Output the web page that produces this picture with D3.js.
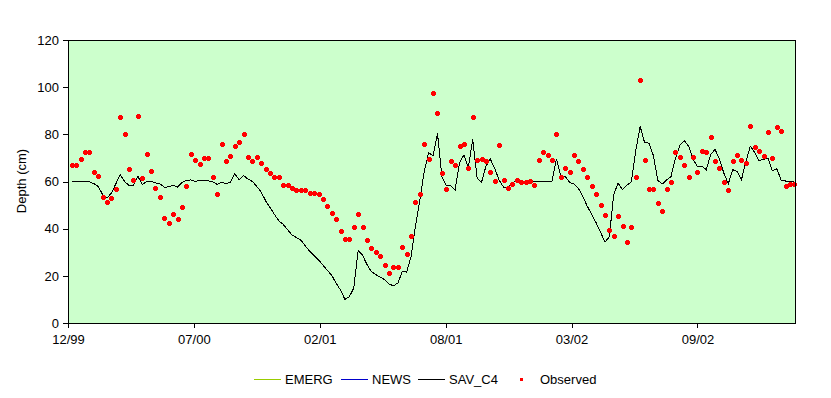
<!DOCTYPE html>
<html><head><meta charset="utf-8">
<script src="https://cdn.jsdelivr.net/npm/d3@7"></script>
<style>
body{margin:0;background:#fff;}
text{font-family:"Liberation Sans",Arial,sans-serif;}
</style></head>
<body>
<svg id="chart" width="831" height="398"></svg>
<script>
const obsDates = [
"2000-01-04","2000-01-11","2000-01-18","2000-01-25","2000-02-01","2000-02-08","2000-02-15","2000-02-22","2000-02-29",
"2000-03-07","2000-03-14","2000-03-21","2000-03-28","2000-04-04","2000-04-11","2000-04-18","2000-04-25",
"2000-05-02","2000-05-09","2000-05-16","2000-05-23","2000-05-30","2000-06-06","2000-06-13","2000-06-20","2000-06-27",
"2000-07-04","2000-07-11","2000-07-18","2000-07-25","2000-08-01","2000-08-08","2000-08-15","2000-08-22","2000-08-29",
"2000-09-05","2000-09-12","2000-09-19","2000-09-26","2000-10-03","2000-10-10","2000-10-17","2000-10-24","2000-10-31",
"2000-11-07","2000-11-14","2000-11-21","2000-11-28","2000-12-05","2000-12-12","2000-12-19","2000-12-26",
"2001-01-02","2001-01-09","2001-01-16","2001-01-23","2001-01-30","2001-02-06","2001-02-13","2001-02-20","2001-02-27",
"2001-03-06","2001-03-13","2001-03-20","2001-03-27","2001-04-03","2001-04-10","2001-04-17","2001-04-24",
"2001-05-01","2001-05-08","2001-05-15","2001-05-22","2001-05-29","2001-06-05","2001-06-12","2001-06-19","2001-06-26",
"2001-07-03","2001-07-10","2001-07-17","2001-07-24","2001-07-31","2001-08-07","2001-08-14","2001-08-21","2001-08-28",
"2001-09-04","2001-09-11","2001-09-18","2001-09-25","2001-10-02","2001-10-09","2001-10-16","2001-10-23","2001-10-30",
"2001-11-06","2001-11-13","2001-11-20","2001-11-27","2001-12-04","2001-12-11","2001-12-18","2001-12-25",
"2002-01-01","2002-01-08","2002-01-15","2002-01-22","2002-01-29","2002-02-05","2002-02-12","2002-02-19","2002-02-26",
"2002-03-05","2002-03-12","2002-03-19","2002-03-26","2002-04-02","2002-04-09","2002-04-16","2002-04-23","2002-04-30",
"2002-05-07","2002-05-14","2002-05-21","2002-05-28","2002-06-04","2002-06-11","2002-06-18","2002-06-25",
"2002-07-02","2002-07-09","2002-07-16","2002-07-23","2002-07-30","2002-08-06","2002-08-13","2002-08-20","2002-08-27",
"2002-09-03","2002-09-10","2002-09-17","2002-09-24","2002-10-01","2002-10-08","2002-10-15","2002-10-22","2002-10-29",
"2002-11-05","2002-11-12","2002-11-19","2002-11-26","2002-12-03","2002-12-10","2002-12-17","2002-12-24","2002-12-31",
"2003-01-07","2003-01-14","2003-01-21","2003-01-28","2003-02-04","2003-02-11","2003-02-18","2003-02-25"
];
const observed = [
67.2,66.8,69.7,72.7,72.3,64.2,62.5,53.6,51.1,52.8,57.0,87.5,80.3,65.5,60.8,87.9,61.3,71.8,64.6,57.4,
53.6,44.7,42.6,46.4,44.3,49.0,57.9,71.8,69.3,67.6,70.1,70.1,61.7,54.5,76.1,68.5,71.0,75.2,76.9,80.3,
70.6,68.9,70.4,68.0,65.5,63.8,61.7,62.1,58.7,58.7,57.4,56.2,56.6,56.2,55.3,55.3,54.5,52.4,49.8,46.8,
43.9,38.8,35.8,35.8,40.9,46.4,40.9,35.4,32.0,30.3,28.6,24.8,21.4,23.6,23.6,32.4,29.1,37.1,51.5,54.9,
76.1,69.7,97.7,89.2,63.4,57.0,68.9,67.2,75.2,76.1,65.9,87.5,69.3,69.7,68.9,64.2,60.4,75.6,60.8,57.4,
59.1,60.8,60.0,59.6,60.4,58.7,69.3,72.3,71.4,69.3,80.3,62.1,65.9,64.2,71.4,68.9,65.5,62.1,57.9,54.5,
50.2,46.0,39.6,37.1,45.2,41.3,34.2,40.5,61.7,103.2,69.3,57.0,57.0,50.7,47.3,57.0,59.6,72.3,70.6,67.2,
62.1,70.6,64.2,73.1,72.3,79.0,68.5,65.9,60.0,56.2,68.9,71.4,69.3,68.0,83.7,74.8,73.1,71.0,81.2,70.1,
83.3,81.6,58.3,59.1,59.1
];
const savC4 = [
59.9,60.2,60.2,60.2,59.9,59.1,57.9,54.5,53.0,55.1,59.0,62.9,60.0,58.3,58.5,62.2,58.8,59.9,60.2,59.4,
59.0,57.6,57.7,58.5,57.6,59.6,60.4,60.7,60.0,60.4,60.5,60.3,59.9,58.8,59.6,59.1,59.7,63.3,60.8,62.5,
61.0,60.0,57.9,55.5,51.8,49.0,46.0,43.3,41.8,39.5,37.3,36.2,35.1,32.7,30.4,28.5,26.8,24.5,22.3,20.2,
16.9,13.9,10.0,11.2,14.8,30.8,28.7,24.8,21.8,20.5,19.5,18.4,16.5,15.8,16.9,21.7,21.6,28.2,41.2,52.0,
64.5,72.2,70.8,80.5,62.0,58.3,58.2,56.4,68.0,71.2,66.0,77.8,61.5,59.7,66.5,69.5,65.5,60.5,57.6,57.5,
59.5,60.2,60.2,60.2,60.2,60.2,60.2,60.2,60.2,60.2,69.5,62.2,62.2,59.6,58.9,57.0,53.6,49.5,46.0,42.5,
38.6,34.3,36.5,54.5,59.3,56.5,58.5,59.8,73.0,83.4,76.5,76.3,71.0,60.5,58.9,60.7,62.1,69.8,75.3,77.3,
75.0,69.5,66.3,66.5,65.0,71.5,73.6,69.5,63.5,59.0,65.0,64.3,60.8,68.5,75.0,72.3,68.8,69.4,69.8,64.6,
65.4,60.6,60.2,60.2,60.2
];
const emerg = [];   // not visible in the plot
const news = [];    // not visible in the plot
const xTickDates = ["1999-12-29","2000-07-16","2001-02-01","2001-08-20","2002-03-08","2002-09-24"];
const xDomain = ["1999-12-29","2003-02-26"];
const yTicks = [0,20,40,60,80,100,120];
const seriesNames = ["EMERG","NEWS","SAV_C4","Observed"];
const seriesColors = ["#99CC00","#0000CC","#000000","#FF0000"];

const parse = d3.utcParse("%Y-%m-%d");
const svg = d3.select("#chart");
const L = 68, R = 795, T = 40, B = 323;

const x = d3.scaleUtc().domain(xDomain.map(parse)).range([L, R]);
const y = d3.scaleLinear().domain([0, 120]).range([B, T]);

svg.append("rect").attr("x", L).attr("y", T).attr("width", R - L).attr("height", B - T)
  .attr("fill", "#CCFFCC");

const lineGen = d3.line().x(d => x(d[0])).y(d => y(d[1]));
function series(vals) { return vals.map((v, i) => [parse(obsDates[i]), v]); }

svg.append("path").datum(series(emerg)).attr("d", lineGen).attr("fill", "none").attr("stroke", seriesColors[0]);
svg.append("path").datum(series(news)).attr("d", lineGen).attr("fill", "none").attr("stroke", seriesColors[1]);
svg.append("path").datum(series(savC4)).attr("d", lineGen).attr("fill", "none")
  .attr("stroke", seriesColors[2]).attr("stroke-width", 1).attr("shape-rendering", "crispEdges");

const plus = "M-2.5,-1.5H-1.5V-2.5H1.5V-1.5H2.5V1.5H1.5V2.5H-1.5V1.5H-2.5Z";
svg.append("g").selectAll("path").data(series(observed)).join("path")
  .attr("d", plus).attr("fill", seriesColors[3]).attr("shape-rendering", "crispEdges")
  .attr("transform", d => `translate(${Math.round(x(d[0])) + 0.5},${Math.round(y(d[1])) + 0.5})`);

// frame
svg.append("rect").attr("x", L + 0.5).attr("y", T + 0.5).attr("width", R - L).attr("height", B - T)
  .attr("fill", "none").attr("stroke", "#000").attr("stroke-width", 1).attr("shape-rendering", "crispEdges");

const yAxis = d3.axisLeft(y).tickValues(yTicks).tickSize(5).tickSizeOuter(0).tickPadding(4);
const gy = svg.append("g").attr("transform", `translate(${L},0)`).call(yAxis);
gy.select(".domain").remove();
gy.selectAll("line").attr("shape-rendering", "crispEdges");
gy.selectAll("text").attr("font-size", 13).attr("fill", "#000").style("font-family", "'Liberation Sans',Arial,sans-serif");

const xAxis = d3.axisBottom(x).tickValues(xTickDates.map(parse)).tickFormat(d3.utcFormat("%m/%y"))
  .tickSize(5).tickSizeOuter(0).tickPadding(7);
const gx = svg.append("g").attr("transform", `translate(0,${B})`).call(xAxis);
gx.select(".domain").remove();
gx.selectAll("line").attr("shape-rendering", "crispEdges");
gx.selectAll("text").attr("font-size", 13).attr("fill", "#000").style("font-family", "'Liberation Sans',Arial,sans-serif");

svg.append("text").attr("transform", "translate(26,181) rotate(-90)")
  .attr("text-anchor", "middle").attr("font-size", 13).text("Depth (cm)");

// legend
const leg = svg.append("g");
const legItems = [
  {name: seriesNames[0], color: seriesColors[0], x0: 254, tx: 285, type: "line"},
  {name: seriesNames[1], color: seriesColors[1], x0: 341, tx: 372, type: "line"},
  {name: seriesNames[2], color: seriesColors[2], x0: 418, tx: 449, type: "line"},
  {name: seriesNames[3], color: seriesColors[3], x0: 520, tx: 540, type: "dot"}
];
const ly = 379.5;
legItems.forEach(it => {
  if (it.type === "line") {
    leg.append("line").attr("x1", it.x0).attr("x2", it.x0 + 27).attr("y1", ly).attr("y2", ly)
      .attr("stroke", it.color).attr("stroke-width", 1).attr("shape-rendering", "crispEdges");
  } else {
    leg.append("rect").attr("x", it.x0).attr("y", Math.floor(ly) - 1).attr("width", 3).attr("height", 3).attr("fill", it.color);
  }
  leg.append("text").attr("x", it.tx).attr("y", 384).attr("font-size", 13).text(it.name);
});
</script>
</body></html>
